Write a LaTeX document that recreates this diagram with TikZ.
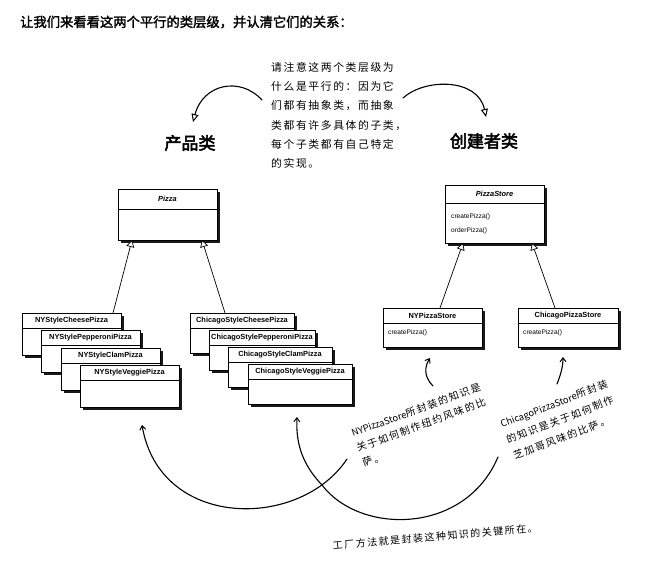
\documentclass[tikz,border=0pt]{standalone}
\usepackage{fontspec}
\usetikzlibrary{arrows.meta,shadows}
\newfontfamily\umlf{Liberation Sans}
\newfontfamily\cjk[LetterSpace=15]{Noto Sans CJK SC}
\newfontfamily\cjkn{Noto Sans CJK SC}
\newfontfamily\cjkb[FakeBold=2]{Noto Sans CJK SC}
\newfontfamily\cjkh[FakeBold=3]{Noto Sans CJK SC}
\newcommand\lat[1]{{\cjkn\fontsize{9.4}{12}\selectfont #1}}

\tikzset{
  clsbox/.style={draw=black, line width=0.7pt, fill=white, inner sep=0pt, outer sep=0pt,
    drop shadow={shadow xshift=3pt, shadow yshift=-3pt, fill=black, opacity=0.9}},
  divider/.style={draw=black, line width=0.6pt},
  clstitle/.style={font=\umlf\bfseries\fontsize{7.4}{8}\selectfont, inner sep=0pt},
  abstitle/.style={font=\umlf\bfseries\itshape\fontsize{7.4}{8}\selectfont, inner sep=0pt},
  meth/.style={font=\umlf\fontsize{6.6}{8}\selectfont, inner sep=0pt, anchor=west},
  inh/.style={draw=black, line width=0.7pt, -{Triangle[length=7pt, width=8pt, fill=white]}},
  hand/.style={draw=black, line width=1.1pt, line cap=round},
  handtri/.style={hand, -{Triangle[open, length=8pt, width=7pt, line width=1pt]}},
  handbarb/.style={hand, -{Straight Barb[length=4pt, width=6pt, line width=1pt]}},
  note/.style={font=\cjk\fontsize{10}{12}\selectfont, inner sep=0pt, anchor=base west},
  head/.style={font=\cjkh\fontsize{17}{20}\selectfont, inner sep=0pt},
}

% name, x, y, w, h, header height, title, title style
\newcommand\umlcls[8]{%
  \node[clsbox, minimum width=#4pt, minimum height=#5pt, anchor=north west] (#1) at (#2,#3) {};
  \draw[divider] ([yshift=-#6pt]#1.north west) -- ([yshift=-#6pt]#1.north east);
  \node[#8] (#1-t) at ([yshift={-0.5*#6pt}]#1.north) {#7};
}

\begin{document}
\begin{tikzpicture}[x=1pt, y=-1pt]
\useasboundingbox (0,0) rectangle (650,560);
\fill[white] (0,0) rectangle (650,560);

% header line
\node[font=\cjkb\fontsize{13.3}{14}\selectfont, inner sep=0pt, anchor=west] (title) at (20,22)
  {让我们来看看这两个平行的类层级，并认清它们的关系：};

% top note
\node[font=\cjk\fontsize{10.8}{19.3}\selectfont, inner sep=0pt, align=left, anchor=north west] (topnote) at (271,62)
  {请注意这两个类层级为\\什么是平行的：因为它\\们都有抽象类，而抽象\\类都有许多具体的子类，\\每个子类都有自己特定\\的实现。};

% headings
\node[head] (hprod) at (190,143) {产品类};
\node[head] (hcre) at (484,141) {创建者类};

\coordinate (la0) at (262,100);
\coordinate (la1) at (193,122);
\coordinate (ra0) at (403,98);
\coordinate (ra1) at (486,117);
\draw[handtri] (la0) .. controls (240,76) and (203,84) .. (la1);
\draw[handtri] (ra0) .. controls (425,78) and (478,78) .. (ra1);

% product classes
\umlcls{pizza}{118}{189}{99}{51}{20}{Pizza}{abstitle}

\umlcls{ny1}{22}{313}{99}{42}{15}{NYStyleCheesePizza}{clstitle}
\umlcls{ny2}{41}{330}{99}{42}{15}{NYStylePepperoniPizza}{clstitle}
\umlcls{ny3}{61}{348}{99}{42}{15}{NYStyleClamPizza}{clstitle}
\umlcls{ny4}{80}{365}{99}{42}{15}{NYStyleVeggiePizza}{clstitle}

\umlcls{ch1}{190}{313}{104}{40}{15}{ChicagoStyleCheesePizza}{clstitle}
\umlcls{ch2}{209}{330}{106}{40}{15}{ChicagoStylePepperoniPizza}{clstitle}
\umlcls{ch3}{228}{347}{104}{40}{15}{ChicagoStyleClamPizza}{clstitle}
\umlcls{ch4}{248}{364}{104}{40}{15}{ChicagoStyleVeggiePizza}{clstitle}

\draw[inh] ([xshift=91pt]ny1.north west) -- ([xshift=14pt]pizza.south west);
\draw[inh] ([xshift=35pt]ch1.north west) -- ([xshift=-15pt]pizza.south east);

% creator classes
\umlcls{ps}{445}{185}{99}{58}{18}{PizzaStore}{abstitle}
\node[meth] (ps-m1) at ([xshift=6pt,yshift=-32pt]ps.north west) {createPizza()};
\node[meth] (ps-m2) at ([xshift=6pt,yshift=-46pt]ps.north west) {orderPizza()};

\umlcls{nyps}{383}{308}{99}{39}{15}{NYPizzaStore}{clstitle}
\node[meth] (nyps-m1) at ([xshift=5pt,yshift=-25pt]nyps.north west) {createPizza()};
\umlcls{cps}{518}{308}{100}{39}{15}{ChicagoPizzaStore}{clstitle}
\node[meth] (cps-m1) at ([xshift=5pt,yshift=-25pt]cps.north west) {createPizza()};

\draw[inh] ([xshift=57pt]nyps.north west) -- ([xshift=18pt]ps.south west);
\draw[inh] ([xshift=37pt]cps.north west) -- ([xshift=-12pt]ps.south east);

% NY note
\node[note, rotate=20] (nyn1) at (353,437) {\lat{NYPizzaStore}所封装的知识是};
\node[note, rotate=20] (nyn2) at (358,452) {关于如何制作纽约风味的比};
\node[note, rotate=20] (nyn3) at (364,467) {萨。};

% Chicago note
\node[note, rotate=21] (chn1) at (502,428) {\lat{ChicagoPizzaStore}所封装};
\node[note, rotate=21] (chn2) at (508,444) {的知识是关于如何制作};
\node[note, rotate=21] (chn3) at (515,460) {芝加哥风味的比萨。};

% bottom note
\node[note, rotate=5] (botn) at (333,550) {工厂方法就是封装这种知识的关键所在。};

% small arrows
\coordinate (sa0) at (433,386);
\coordinate (sa1) at (430,358);
\coordinate (sb0) at (557,384);
\coordinate (sb1) at (563,357);
\draw[handbarb] (sa0) .. controls (423,376) and (425,366) .. (sa1);
\draw[handbarb] (sb0) .. controls (561,374) and (563,366) .. (sb1);

% long arrows
\coordinate (ca0) at (347,459);
\coordinate (ca1) at (142,425);
\coordinate (cb0) at (498,457);
\coordinate (cbm) at (322,485);
\coordinate (cb1) at (297,417);
\draw[handbarb] (ca0) .. controls (300,530) and (160,530) .. (ca1);
\draw[handbarb] (cb0) .. controls (465,535) and (360,535) .. (cbm) .. controls (300,462) and (296,440) .. (cb1);
\end{tikzpicture}
\end{document}
